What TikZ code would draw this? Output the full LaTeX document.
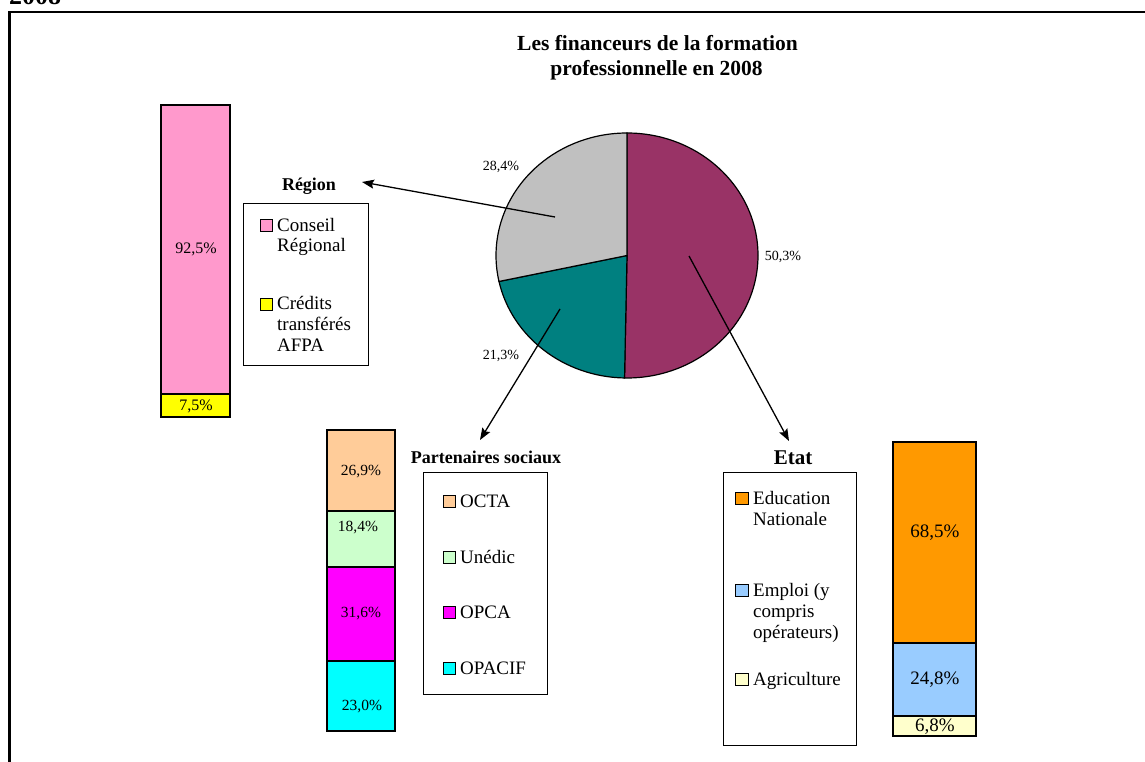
\documentclass[tikz,border=0pt]{standalone}
\usepackage{fontspec}
\setmainfont{Liberation Serif}
\usetikzlibrary{arrows.meta}
\definecolor{pmaroon}{HTML}{993366}
\definecolor{pteal}{HTML}{008080}
\definecolor{pgray}{HTML}{C0C0C0}
\definecolor{cpink}{HTML}{FF99CC}
\definecolor{cyel}{HTML}{FFFF00}
\definecolor{ctan}{HTML}{FFCC99}
\definecolor{cgreen}{HTML}{CCFFCC}
\definecolor{cmag}{HTML}{FF00FF}
\definecolor{ccyan}{HTML}{00FFFF}
\definecolor{corange}{HTML}{FF9900}
\definecolor{cblue}{HTML}{99CCFF}
\definecolor{ccream}{HTML}{FFFFCC}
\begin{document}
\begin{tikzpicture}[x=1pt,y=1pt,
  txt/.style={inner sep=0pt, anchor=base west, font=\fontsize{19}{20}\selectfont},
  hdr/.style={inner sep=0pt, anchor=base, font=\bfseries\fontsize{18}{20}\selectfont},
  ttl/.style={inner sep=0pt, anchor=base, font=\bfseries\fontsize{21.5}{23}\selectfont},
  barlab/.style={inner sep=0pt, font=\fontsize{16}{18}\selectfont},
  pielab/.style={inner sep=0pt, font=\fontsize{14}{16}\selectfont},
  swatch/.style={draw=black, line width=1pt},
  seg/.style={draw=black, line width=1.1pt},
  legbox/.style={draw=black, line width=0.9pt},
  pieline/.style={draw=black, line width=1.2pt},
  arr/.style={line width=1.3pt, -{Stealth[length=12pt,width=9pt,inset=2pt]}}]
\useasboundingbox (0,-762) rectangle (1145,0);
\fill[white] (0,-762) rectangle (1145,0);
% frame and cut heading
\node[inner sep=0pt, anchor=base west, font=\bfseries\fontsize{26}{28}\selectfont] (yr) at (9,-4.5) {2008};
\draw[line width=2.3pt] (9.5,-770) -- (9.5,-12) -- (1150,-12);
% title
\node[ttl] (t1) at (657.5,-51) {Les financeurs de la formation};
\node[ttl] (t2) at (656.5,-76) {professionnelle en 2008};
% pie
\coordinate (pc) at (627,-255.5);
\filldraw[pieline, fill=pmaroon] (pc) -- ++(90:131pt and 122.5pt) arc[start angle=90, end angle=-91.08, x radius=131pt, y radius=122.5pt] -- cycle;
\filldraw[pieline, fill=pteal] (pc) -- ++(-91.08:131pt and 122.5pt) arc[start angle=-91.08, end angle=-167.76, x radius=131pt, y radius=122.5pt] -- cycle;
\filldraw[pieline, fill=pgray] (pc) -- ++(-167.76:131pt and 122.5pt) arc[start angle=-167.76, end angle=-270, x radius=131pt, y radius=122.5pt] -- cycle;
\node[pielab] (l284) at (501,-167) {28,4\%};
\node[pielab] (l503) at (783,-257) {50,3\%};
\node[pielab] (l213) at (501,-356) {21,3\%};
% arrows
\coordinate (aRs) at (555,-217);
\coordinate (aRe) at (362,-182);
\coordinate (aPs) at (560,-309);
\coordinate (aPe) at (480,-440);
\coordinate (aEs) at (689,-256);
\coordinate (aEe) at (789,-441);
\draw[arr] (aRs) -- (aRe);
\draw[arr] (aPs) -- (aPe);
\draw[arr] (aEs) -- (aEe);
% Region bar
\filldraw[seg, fill=cpink] (161,-105) rectangle (230,-394);
\filldraw[seg, fill=cyel] (161,-394) rectangle (230,-417);
\node[barlab] (r1) at (196,-249) {92,5\%};
\node[barlab] (r2) at (196,-406) {7,5\%};
% Region legend
\node[hdr] (hR) at (309,-191) {Région};
\draw[legbox] (243,-203) rectangle (368,-365);
\filldraw[swatch, fill=cpink] (260,-219) rectangle (272,-231);
\node[txt] (lr1a) at (277,-231) {Conseil};
\node[txt] (lr1b) at (277,-251.5) {Régional};
\filldraw[swatch, fill=cyel] (260,-298) rectangle (272,-310);
\node[txt] (lr2a) at (277,-309.5) {Crédits};
\node[txt] (lr2b) at (277,-330) {transférés};
\node[txt] (lr2c) at (277,-351) {AFPA};
% Partenaires bar
\filldraw[seg, fill=ctan] (327,-430) rectangle (395,-511);
\filldraw[seg, fill=cgreen] (327,-511) rectangle (395,-567);
\filldraw[seg, fill=cmag] (327,-567) rectangle (395,-661);
\filldraw[seg, fill=ccyan] (327,-661) rectangle (395,-731);
\node[barlab, font=\fontsize{15.5}{17}\selectfont] (p1) at (361,-472) {26,9\%};
\node[barlab, font=\fontsize{15.5}{17}\selectfont] (p2) at (358,-528) {18,4\%};
\node[barlab, font=\fontsize{15.5}{17}\selectfont] (p3) at (361,-614) {31,6\%};
\node[barlab, font=\fontsize{15.5}{17}\selectfont] (p4) at (362,-707) {23,0\%};
% Partenaires legend
\node[hdr] (hP) at (486,-463) {Partenaires sociaux};
\draw[legbox] (423,-472) rectangle (547,-694);
\filldraw[swatch, fill=ctan] (443,-495) rectangle (455,-507);
\node[txt] (lp1) at (460,-507) {OCTA};
\filldraw[swatch, fill=cgreen] (443,-551) rectangle (455,-563);
\node[txt] (lp2) at (460,-563) {Unédic};
\filldraw[swatch, fill=cmag] (443,-606) rectangle (455,-618);
\node[txt] (lp3) at (460,-618) {OPCA};
\filldraw[swatch, fill=ccyan] (443,-662) rectangle (455,-674);
\node[txt] (lp4) at (460,-674) {OPACIF};
% Etat legend
\node[hdr, font=\bfseries\fontsize{21}{23}\selectfont] (hE) at (793,-464) {Etat};
\draw[legbox] (723,-472) rectangle (856,-745);
\filldraw[swatch, fill=corange] (735,-492) rectangle (748,-504);
\node[txt] (le1a) at (753,-504) {Education};
\node[txt] (le1b) at (753,-525) {Nationale};
\filldraw[swatch, fill=cblue] (735,-584) rectangle (748,-596);
\node[txt] (le2a) at (753,-596) {Emploi (y};
\node[txt] (le2b) at (753,-617) {compris};
\node[txt] (le2c) at (753,-638) {opérateurs)};
\filldraw[swatch, fill=ccream] (735,-673) rectangle (748,-685);
\node[txt] (le3) at (753,-685) {Agriculture};
% Etat bar
\filldraw[seg, fill=corange] (893,-442) rectangle (976,-643);
\filldraw[seg, fill=cblue] (893,-643) rectangle (976,-716);
\filldraw[seg, fill=ccream] (893,-716) rectangle (976,-736);
\node[barlab, font=\fontsize{19}{21}\selectfont] (e1) at (935,-533) {68,5\%};
\node[barlab, font=\fontsize{19}{21}\selectfont] (e2) at (935,-680) {24,8\%};
\node[barlab, font=\fontsize{19}{21}\selectfont] (e3) at (935,-727) {6,8\%};
\end{tikzpicture}
\end{document}
